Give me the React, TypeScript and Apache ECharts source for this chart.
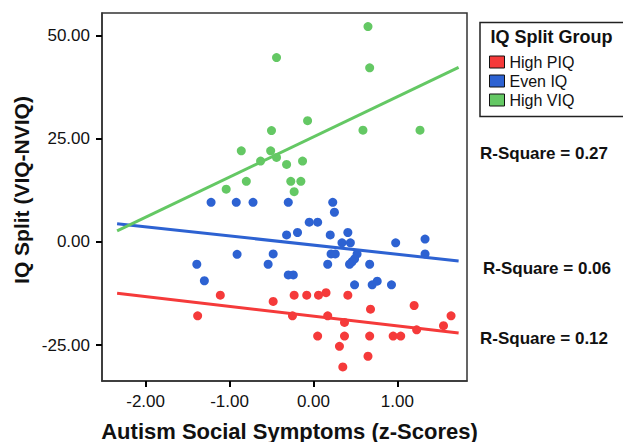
import React, { useEffect, useRef } from "react";
import * as echarts from "echarts";

const seriesNames = ["High PIQ", "Even IQ", "High VIQ"];
const seriesColors = ["#f53a3a", "#2d62d2", "#64c864"];

const highPIQ: [number, number][] = [
  [-1.38, -17.9], [-1.11, -12.9], [-0.48, -14.4], [-0.25, -17.9], [-0.23, -12.9],
  [-0.08, -12.9], [0.06, -12.9], [0.15, -12.3], [0.41, -12.9], [0.05, -22.8],
  [0.17, -17.9], [0.37, -19.5], [0.37, -22.8], [0.31, -25.3], [0.35, -30.3],
  [0.65, -27.7], [0.67, -22.8], [0.68, -16.3], [0.95, -22.8], [1.04, -22.8],
  [1.2, -15.4], [1.23, -21.3], [1.55, -20.3], [1.64, -17.9],
];

const evenIQ: [number, number][] = [
  [-1.39, -5.4], [-1.3, -9.4], [-1.22, 9.6], [-0.92, 9.6], [-0.72, 9.6],
  [-0.91, -3.0], [-0.48, -2.9], [-0.54, -5.4], [-0.32, 1.7], [-0.19, 2.3],
  [-0.3, 9.6], [-0.3, -8.0], [-0.24, -8.0], [-0.05, 4.8], [0.05, 4.8],
  [0.2, 1.7], [0.23, 9.6], [0.25, 7.2], [0.21, -2.9], [0.26, -2.9],
  [0.17, -5.4], [0.34, -0.2], [0.41, 2.3], [0.44, -0.2], [0.52, -2.9],
  [0.49, -4.1], [0.46, -4.8], [0.43, -5.4], [0.67, -5.4], [0.49, -10.4],
  [0.7, -10.4], [0.76, -9.5], [0.93, -10.4], [0.98, -0.2], [1.33, 0.7],
  [1.33, -2.9],
];

const highVIQ: [number, number][] = [
  [-1.04, 12.8], [-0.86, 22.1], [-0.8, 14.7], [-0.63, 19.6], [-0.51, 22.1],
  [-0.5, 27.0], [-0.44, 20.5], [-0.44, 44.7], [-0.32, 18.8], [-0.27, 14.7],
  [-0.23, 12.2], [-0.15, 14.7], [-0.13, 19.6], [-0.07, 29.4], [0.59, 27.1],
  [0.65, 52.2], [0.67, 42.2], [1.27, 27.1],
];

// fit lines: x extent and y at each end
const fitX = [-2.34, 1.73];
const fitPIQ = [-12.45, -22.09];
const fitEven = [4.44, -4.61];
const fitVIQ = [2.67, 42.3];

const rSquareLabels = ["R-Square = 0.27", "R-Square = 0.06", "R-Square = 0.12"];

const xTicks = [-2, -1, 0, 1];
const yTicks = [-25, 0, 25, 50];

const FONT = "'Liberation Sans', Arial, Helvetica, sans-serif";

export default function App() {
  const ref = useRef<HTMLDivElement>(null);
  useEffect(() => {
    document.body.style.margin = "0";
    if (!ref.current) return;
    const chart = echarts.init(ref.current, undefined, { renderer: "svg" });
    const fits = [fitPIQ, fitEven, fitVIQ];
    const pts = [highPIQ, evenIQ, highVIQ];
    const scatter = pts.map((d, i) => ({
      name: seriesNames[i],
      type: "scatter",
      data: d,
      symbolSize: 9,
      itemStyle: { color: seriesColors[i], opacity: 1 },
      z: 3,
    }));
    const lines = fits.map((f, i) => ({
      name: "fit " + seriesNames[i],
      type: "line",
      data: [
        [fitX[0], f[0]],
        [fitX[1], f[1]],
      ],
      showSymbol: false,
      symbol: "none",
      lineStyle: { color: seriesColors[i], width: 3 },
      z: 2,
    }));
    chart.setOption({
      animation: false,
      textStyle: { fontFamily: FONT },
      grid: {
        left: 102,
        right: 156,
        top: 13,
        bottom: 61,
        show: true,
        borderColor: "#333",
        borderWidth: 1.5,
      },
      legend: {
        data: seriesNames,
        orient: "vertical",
        left: 489,
        top: 54,
        padding: 0,
        itemWidth: 15,
        itemHeight: 12,
        itemGap: 3,
        icon: "rect",
        itemStyle: { borderColor: "#111", borderWidth: 1 },
        textStyle: { fontSize: 16, color: "#111", fontFamily: FONT },
      },
      xAxis: {
        type: "value",
        min: -2.52,
        max: 1.83,
        axisLine: { show: true, onZero: false, lineStyle: { color: "#333", width: 1.5 } },
        axisTick: { show: true, inside: false, length: 6, lineStyle: { color: "#000", width: 2 }, customValues: xTicks },
        axisLabel: {
          customValues: xTicks,
          formatter: (v: number) => v.toFixed(2),
          fontSize: 17,
          color: "#111",
          margin: 12,
          fontFamily: FONT,
        },
        splitLine: { show: false },
      },
      yAxis: {
        type: "value",
        min: -33.7,
        max: 55.5,
        axisLine: { show: true, onZero: false, lineStyle: { color: "#333", width: 1.5 } },
        axisTick: { show: true, inside: false, length: 6, lineStyle: { color: "#000", width: 2 }, customValues: yTicks },
        axisLabel: {
          customValues: yTicks,
          formatter: (v: number) => v.toFixed(2),
          fontSize: 17,
          color: "#111",
          margin: 12,
          fontFamily: FONT,
        },
        splitLine: { show: false },
      },
      graphic: [
        {
          type: "text",
          x: 289.5,
          y: 431,
          style: {
            text: "Autism Social Symptoms (z-Scores)",
            font: `bold 22px ${FONT}`,
            fill: "#111",
            align: "center",
            verticalAlign: "middle",
          },
        },
        {
          type: "text",
          x: 21,
          y: 190,
          rotation: Math.PI / 2,
          style: {
            text: "IQ Split (VIQ-NVIQ)",
            font: `bold 21px ${FONT}`,
            fill: "#111",
            align: "center",
            verticalAlign: "middle",
          },
        },
        {
          type: "rect",
          shape: { x: 480, y: 22.5, width: 150, height: 94 },
          style: { fill: "none", stroke: "#222", lineWidth: 1.5 },
        },
        {
          type: "text",
          x: 490.5,
          y: 37,
          style: {
            text: "IQ Split Group",
            font: `bold 18px ${FONT}`,
            fill: "#111",
            align: "left",
            verticalAlign: "middle",
          },
        },
        {
          type: "text",
          x: 480,
          y: 153,
          style: { text: rSquareLabels[0], font: `bold 17px ${FONT}`, fill: "#111", verticalAlign: "middle" },
        },
        {
          type: "text",
          x: 483,
          y: 268,
          style: { text: rSquareLabels[1], font: `bold 17px ${FONT}`, fill: "#111", verticalAlign: "middle" },
        },
        {
          type: "text",
          x: 480,
          y: 338,
          style: { text: rSquareLabels[2], font: `bold 17px ${FONT}`, fill: "#111", verticalAlign: "middle" },
        },
      ],
      series: [...lines, ...scatter],
    });
    return () => chart.dispose();
  }, []);
  return <div ref={ref} style={{ width: 623, height: 442 }} />;
}
